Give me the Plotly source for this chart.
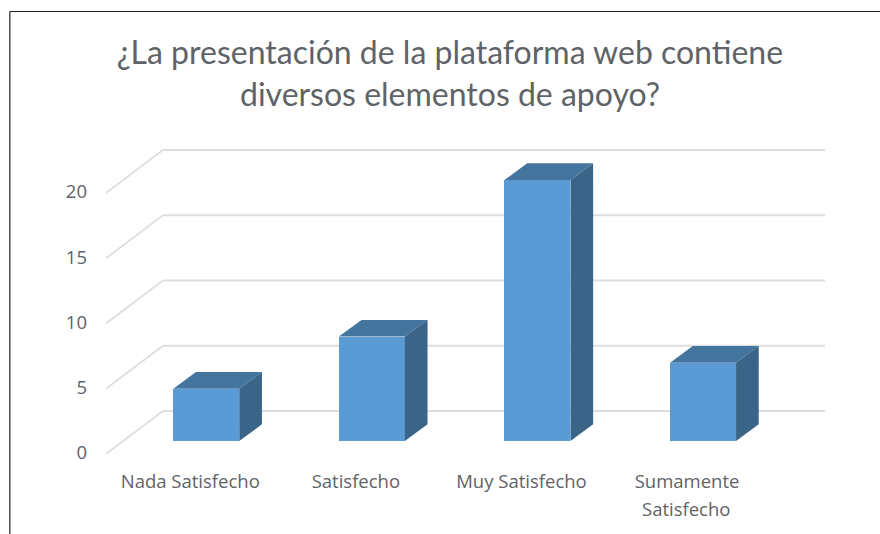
import plotly.graph_objects as go

categories = ["Nada Satisfecho", "Satisfecho", "Muy Satisfecho", "Sumamente"]
second_line = ["", "", "", "Satisfecho"]
values = [4, 8, 20, 6]
y_ticks = [0, 5, 10, 15, 20]
title_text = "¿La presentación de la plataforma web contiene<br>diversos elementos de apoyo?"

W, H = 880, 534
L, R, T, B = 105.7, 825, 140, 454
UX = 165.67   # px per category
UY = 13.05    # px per value unit
X0 = 206      # px of first category centre
px = lambda p: (p - X0) / UX
XR = [px(L), px(R)]
YR = [0, (B - T) / UY]

BAR_W = 66 / UX
BASE = 13 / UY
DX_BAR, DY_BAR = 22.7 / UX, 16.7 / UY
DX_WALL, DY_WALL = 57 / UX, 43 / UY

GRID = "#DEDEDE"
FRONT, TOP, SIDE = "#5B9BD5", "#44759F", "#3A6488"
TEXT = "#5F6368"
FONT = "Lato"
LABEL_FONT = "Open Sans"
LABEL_SIZE = 18.5

fig = go.Figure()
xs = list(range(len(values)))
fig.add_trace(go.Bar(x=xs, y=values, base=BASE, width=BAR_W, marker=dict(color=FRONT, line=dict(width=0)),
                     hoverinfo="y", showlegend=False))
for i, v in zip(xs, values):
    xl, xr = i - BAR_W / 2, i + BAR_W / 2
    yb, yt = BASE, BASE + v
    fig.add_trace(go.Scatter(x=[xl, xr, xr + DX_BAR, xl + DX_BAR, xl], y=[yt, yt, yt + DY_BAR, yt + DY_BAR, yt],
                             mode="lines", line=dict(width=0), fill="toself", fillcolor=TOP,
                             hoverinfo="skip", showlegend=False))
    fig.add_trace(go.Scatter(x=[xr, xr + DX_BAR, xr + DX_BAR, xr, xr], y=[yb, yb + DY_BAR, yt + DY_BAR, yt, yb],
                             mode="lines", line=dict(width=0), fill="toself", fillcolor=SIDE,
                             hoverinfo="skip", showlegend=False))

shapes = []
for t in y_ticks:
    shapes.append(dict(type="line", layer="below", xref="x", yref="y", x0=XR[0], y0=t, x1=XR[0] + DX_WALL, y1=t + DY_WALL,
                       line=dict(color=GRID, width=1.8)))
    shapes.append(dict(type="line", layer="below", xref="x", yref="y", x0=XR[0] + DX_WALL, y0=t + DY_WALL, x1=XR[1], y1=t + DY_WALL,
                       line=dict(color=GRID, width=1.8)))
# picture frame
fx = (9.5 - L) / (R - L)
fy = (B - 11.5) / (B - T)
shapes.append(dict(type="line", xref="paper", yref="paper", x0=fx, x1=fx,
                   y0=(B - 534) / (B - T), y1=fy, line=dict(color="#222222", width=1.2)))
shapes.append(dict(type="line", xref="paper", yref="paper", x0=fx, x1=(W - L) / (R - L),
                   y0=fy, y1=fy, line=dict(color="#222222", width=1.2)))

annotations = [dict(x=i, y=0, xref="x", yref="y", text=s, showarrow=False, yanchor="middle", xanchor="center",
                    xshift=-17, yshift=B - 508, font=dict(family=LABEL_FONT, size=LABEL_SIZE, color=TEXT))
               for i, s in zip(xs, second_line) if s]

fig.update_layout(
    width=W, height=H, margin=dict(l=L, r=W - R, t=T, b=H - B, autoexpand=False),
    paper_bgcolor="white", plot_bgcolor="white", bargap=0, shapes=shapes, annotations=annotations,
    title=dict(text=title_text, x=450 / W, xanchor="center", y=1 - 64 / H, yanchor="top", xref="container",
               font=dict(family=FONT, size=32, color=TEXT)),
    xaxis=dict(range=XR, tickmode="array", tickvals=xs, ticktext=categories, showgrid=False, zeroline=False,
               showline=False, ticks="", ticklabelshift=-16, ticklabelstandoff=14,
               tickfont=dict(family=LABEL_FONT, size=LABEL_SIZE, color=TEXT)),
    yaxis=dict(range=YR, tickmode="array", tickvals=y_ticks, showgrid=False, zeroline=False, showline=False, ticks="",
               ticklabelshift=-1, ticklabelstandoff=18, tickfont=dict(family=LABEL_FONT, size=LABEL_SIZE, color=TEXT)),
)
fig.write_html("out.html", config={"displayModeBar": False}, post_script="document.body.style.margin='0';")
